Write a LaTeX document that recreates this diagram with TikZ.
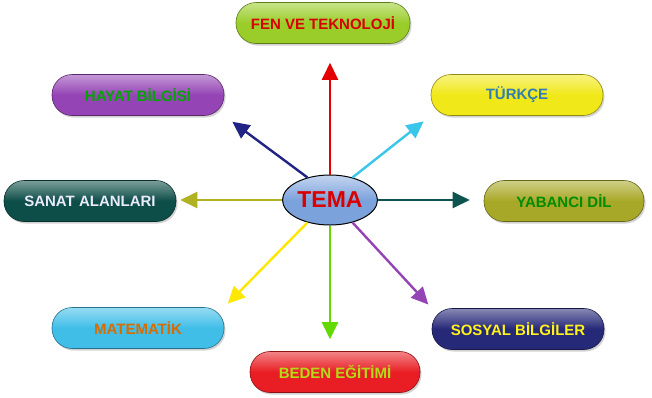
\documentclass[tikz,border=0pt]{standalone}
\usepackage{fontspec}
\setmainfont{Liberation Sans}
\usetikzlibrary{arrows.meta,shadows,shapes.geometric}
\definecolor{fenyesil}{HTML}{9ACD2A}
\definecolor{hayatmor}{HTML}{9444B4}
\definecolor{turksari}{HTML}{F0E818}
\definecolor{sanatkoyu}{HTML}{0E4E48}
\definecolor{yabanzeytin}{HTML}{A8A828}
\definecolor{matmavi}{HTML}{40BEE8}
\definecolor{bedenkirmizi}{HTML}{E81E24}
\definecolor{sosyallaci}{HTML}{262878}
\definecolor{temamavi}{HTML}{7CA2DC}
\tikzset{
	konu/.style={rectangle, rounded corners=20pt, minimum width=172pt, minimum height=41pt,
		draw=#1!60!black, line width=0.6pt, top color=#1!55!white, bottom color=#1,
		middle color=#1, drop shadow={opacity=0.35, shadow xshift=1.5pt, shadow yshift=-2pt},
		font=\fontsize{15}{17}\selectfont\bfseries},
	okrenk/.style={line width=2.4pt, draw=#1, -{Triangle[length=17pt, width=16pt]}}
}
\begin{document}
\begin{tikzpicture}[x=1pt, y=-1pt]
	\useasboundingbox[fill=white] (0,0) rectangle (652,397);
	\node[konu=fenyesil, text=red!85!black, minimum width=174pt] (fen) at (323,23) {FEN VE TEKNOLOJİ};
	\node[konu=hayatmor, text=green!65!black] (hayat) at (138,95) {HAYAT BİLGİSİ};
	\node[konu=turksari, text=cyan!70!blue!80!black] (turkce) at (517,95) {TÜRKÇE};
	\node[konu=sanatkoyu, text=blue!8!white] (sanat) at (90,201) {SANAT ALANLARI};
	\node[konu=yabanzeytin, text=green!55!black, minimum width=160pt] (yabanci) at (564,201) {YABANCI DİL};
	\node[konu=matmavi, text=orange!85!black] (mat) at (138,328) {MATEMATİK};
	\node[konu=bedenkirmizi, text=yellow!70!green, minimum width=170pt] (beden) at (335,372) {BEDEN EĞİTİMİ};
	\node[konu=sosyallaci, text=yellow!90!white] (sosyal) at (518,329) {SOSYAL BİLGİLER};
	\node[ellipse, draw=black, line width=1pt, minimum width=85pt, minimum height=50pt, inner sep=1pt,
		top color=temamavi!45!white, bottom color=temamavi, middle color=temamavi,
		text=red!85!black, font=\fontsize{23}{25}\selectfont\bfseries] (tema) at (330,200) {TEMA};
	\draw[okrenk=red!90!black, shorten >=19pt] (tema.north) -- (tema.north |- fen.south);
	\draw[okrenk=sosyallaci!90!blue, shorten >=10pt] (tema.135) -- (hayat.south east);
	\draw[okrenk=matmavi!90!cyan, shorten >=9pt] (tema.45) -- (turkce.south west);
	\draw[okrenk=yabanzeytin!90!yellow, shorten >=4pt] (tema.west) -- (sanat.east |- tema.west);
	\draw[okrenk=sanatkoyu!90!teal, shorten >=14pt] (tema.east) -- (yabanci.west |- tema.east);
	\draw[okrenk=yellow!90!orange, shorten >=5pt] (tema.225) -- (mat.north east);
	\draw[okrenk=green!55!yellow!85!black, shorten >=12pt] (tema.south) -- (tema.south |- beden.north);
	\draw[okrenk=hayatmor, shorten >=5pt] (tema.-45) -- (sosyal.north west);
\end{tikzpicture}
\end{document}
